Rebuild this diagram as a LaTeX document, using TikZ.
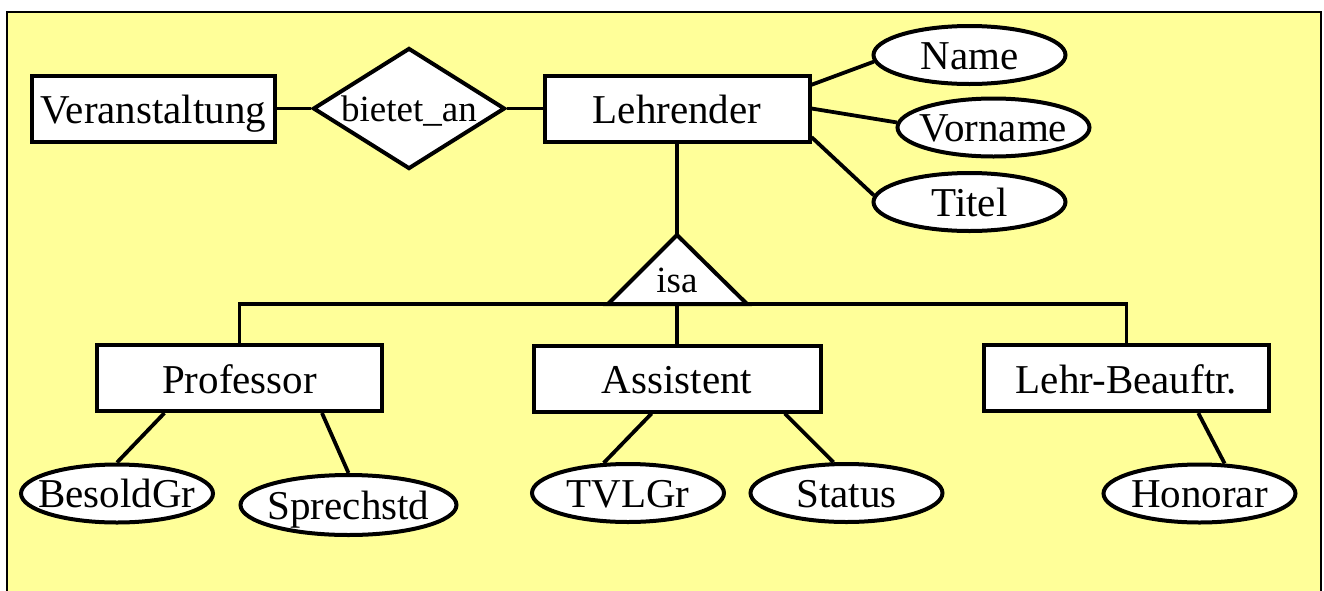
\documentclass[tikz,border=0pt]{standalone}
\usepackage{fontspec}
\setmainfont{Liberation Serif}
\usetikzlibrary{shapes.geometric}
\definecolor{paneyellow}{RGB}{255,255,153}
\newcommand{\attrlbl}[1]{\hbox to 0pt{\hss #1\hss}}

\begin{document}
\begin{tikzpicture}[x=0.5pt, y=-0.5pt,
                entnode/.style={rectangle, draw, fill=white, line width=2pt, minimum height=33pt, inner sep=0pt, text height=15pt, text depth=0pt, font=\fontsize{20.5}{24}\selectfont},
                relnode/.style={diamond, draw, fill=white, line width=2pt, aspect=1.57, minimum width=96pt, minimum height=60.5pt, inner sep=0pt, text height=13pt, text depth=0pt, font=\fontsize{18.5}{22}\selectfont},
                attrnode/.style={ellipse, draw, fill=white, line width=2pt, minimum width=96pt, minimum height=29pt, inner sep=0pt, text height=14pt, text depth=0pt, font=\fontsize{20.5}{24}\selectfont},
                conn/.style={line width=1.9pt},
            ]

            \useasboundingbox (0,0) rectangle (1324,590);

            % panel
            \draw[fill=paneyellow, line width=1pt] (7,12) rectangle (1321,600);

            % top row
            \node[entnode, minimum width=121.5pt] (ver) at (153.5,108.5) {Veranstaltung};
            \node[relnode] (bie) at (409,108.5) {bietet\_an};
            \node[entnode, minimum width=132.5pt] (lehr) at (677,108.5) {Lehrender};

            \node[attrnode] (name) at (969.5,55) {\attrlbl{Name}};
            \node[attrnode] (vor) at (993.5,127.5) {\attrlbl{Vorname}};
            \node[attrnode] (tit) at (969.5,202) {\attrlbl{Titel}};

            % isa
            \coordinate (isatop) at (677,235);
            \coordinate (isal) at (608,304);
            \coordinate (isar) at (747,304);
            \coordinate (isabar) at (677,304);

            % subclasses
            \node[entnode, minimum width=142.5pt] (prof) at (239.5,378) {Professor};
            \node[entnode, minimum width=143.5pt] (ass) at (677,378.5) {Assistent};
            \node[entnode, minimum width=142.5pt] (lbf) at (1126.5,378) {Lehr-Beauftr.};

            \node[attrnode] (bes) at (117,493.5) {\attrlbl{BesoldGr}};
            \node[attrnode, minimum width=108pt, minimum height=30pt] (spr) at (348.5,505) {\attrlbl{Sprechstd}};
            \node[attrnode] (tvl) at (628,493) {\attrlbl{TVLGr}};
            \node[attrnode] (sta) at (846.5,493) {\attrlbl{Status}};
            \node[attrnode] (hon) at (1199.5,493.5) {\attrlbl{Honorar}};

            % connectors
            \draw[conn] (ver) -- (bie);
            \draw[conn] (bie) -- (lehr);
            \draw[conn] (lehr.10) -- (name.184);
            \draw[conn] (lehr.east) -- (vor.177);
            \draw[conn] (lehr.348) -- (tit.176);
            \draw[conn] (lehr.south) -- (isatop);
            \draw[conn] (prof.north) |- (isabar) -| (lbf.north);
            \draw[conn] (isabar) -- (ass.north);
            \draw[line width=2pt, fill=white] (isatop) -- (isar) -- (isal) -- cycle;
            \node[font=\fontsize{18.5}{22}\selectfont, anchor=base] (isa) at (677,292) {isa};

            \draw[conn] (prof.205) -- (bes.north);
            \draw[conn] (prof.337) -- (spr.north);
            \draw[conn] (ass.234) -- (tvl.129);
            \draw[conn] (ass.342) -- (sta.113);
            \draw[conn] (lbf.334) -- (hon.50);
        \end{tikzpicture}
\end{document}
